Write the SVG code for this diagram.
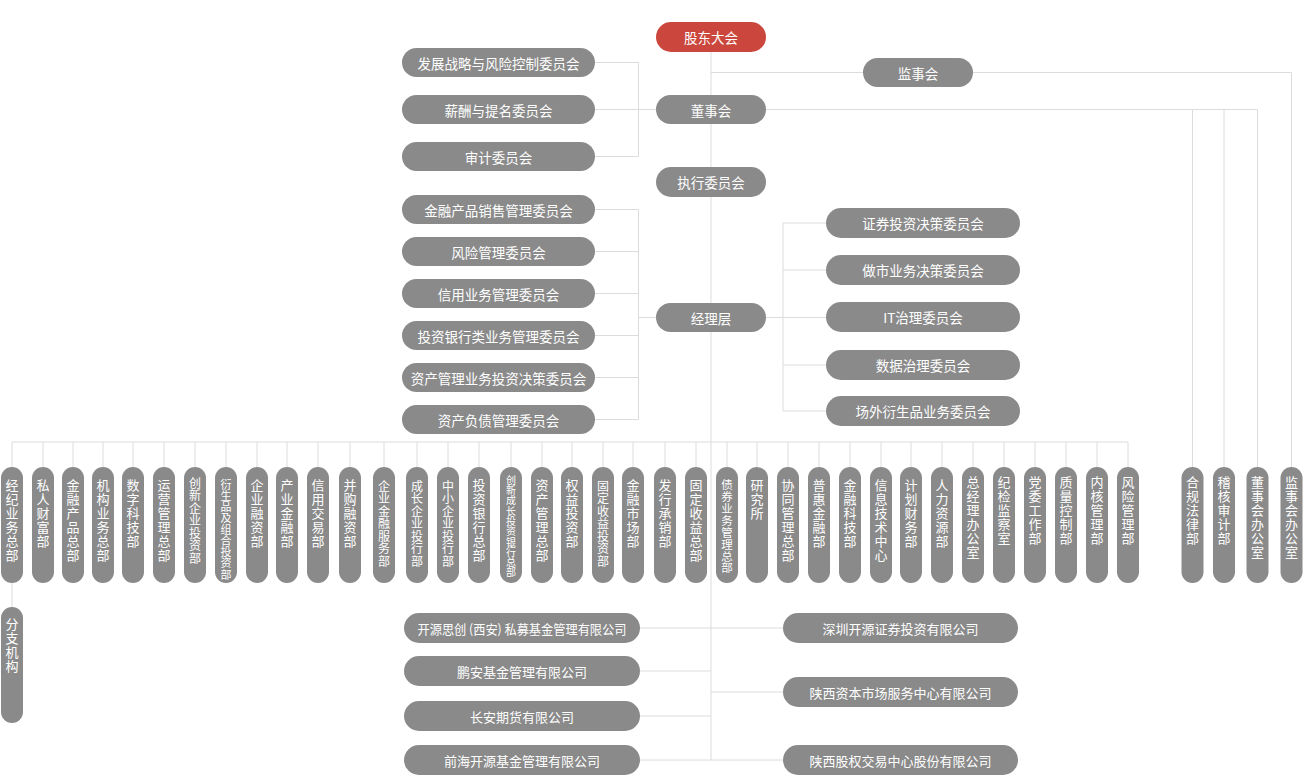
<svg xmlns="http://www.w3.org/2000/svg" width="1305" height="777" viewBox="0 0 1305 777">
<style>
.p{fill:#8a8a8a}
.r{fill:#cb473d}
.t{font-family:"Noto Sans CJK SC","Noto Sans",sans-serif;font-size:13.5px;fill:#fff;text-anchor:middle;dominant-baseline:central}
.s{font-size:13px}
.v{font-family:"Noto Sans CJK SC","Noto Sans",sans-serif;font-size:13px;fill:#fff;writing-mode:vertical-rl;letter-spacing:1px}
.v7{font-size:12px;letter-spacing:0.5px}
.v8{font-size:11.5px;letter-spacing:0.4px}
.v9{font-size:11px;letter-spacing:0.25px}
.v10{font-size:10px;letter-spacing:0.3px}
.c{stroke:#dcdcdc;stroke-width:1;fill:none}
</style>
<rect width="1305" height="777" fill="#fff"/>
<g id="connectors" class="c">
<path d="M711 51V760"/>
<path d="M711 72.5H863M973 72.5H1291.5V467"/>
<path d="M766 109.5H1257.5V467M1192.5 109.5V467M1224 109.5V467"/>
<path d="M595 109.5H656M595 62.5H638.5V156.5H595"/>
<path d="M656 317.5H638.5M595 209.5H638.5V419.5H595M595 251.5H638.5M595 293.5H638.5M595 335.5H638.5M595 377.5H638.5"/>
<path d="M766 317.5H826M826 223H783V411H826M783 270H826M783 365H826"/>
<path d="M12 442H1128"/>
<path d="M12 442V467M43 442V467M73 442V467M103 442V467M133 442V467M164 442V467M195 442V467M226 442V467M257 442V467M287 442V467M318 442V467M350 442V467M384 442V467M417 442V467M448 442V467M479 442V467M511 442V467M542 442V467M572 442V467M603 442V467M633 442V467M665 442V467M696 442V467M727 442V467M757 442V467M788 442V467M819 442V467M850 442V467M881 442V467M911 442V467M942 442V467M973 442V467M1004 442V467M1035 442V467M1066 442V467M1097 442V467M1128 442V467"/>
<path d="M12 583V607"/>
<path d="M640 628H783M640 671H711M640 716H711M640 760H783M711 692H783"/>
</g>
<g id="n-gdhd"><rect class="r" x="656" y="22" width="110" height="30" rx="15"/><text class="t" x="711" y="37">股东大会</text></g>
<g id="n-dsh"><rect class="p" x="656" y="95" width="110" height="29" rx="14.5"/><text class="t" x="711" y="109.5">董事会</text></g>
<g id="n-zxwyh"><rect class="p" x="656" y="167" width="110" height="30" rx="15"/><text class="t" x="711" y="182">执行委员会</text></g>
<g id="n-jlc"><rect class="p" x="656" y="303" width="110" height="29" rx="14.5"/><text class="t" x="711" y="317.5">经理层</text></g>
<g id="n-jsh"><rect class="p" x="863" y="58" width="110" height="29" rx="14.5"/><text class="t" x="918" y="72.5">监事会</text></g>
<g id="n-l1"><rect class="p" x="402" y="48" width="193" height="29" rx="14.5"/><text class="t" x="498.5" y="62.5">发展战略与风险控制委员会</text></g>
<g id="n-l2"><rect class="p" x="402" y="95" width="193" height="29" rx="14.5"/><text class="t" x="498.5" y="109.5">薪酬与提名委员会</text></g>
<g id="n-l3"><rect class="p" x="402" y="142" width="193" height="29" rx="14.5"/><text class="t" x="498.5" y="156.5">审计委员会</text></g>
<g id="n-l4"><rect class="p" x="402" y="195" width="193" height="29" rx="14.5"/><text class="t" x="498.5" y="209.5">金融产品销售管理委员会</text></g>
<g id="n-l5"><rect class="p" x="402" y="237" width="193" height="29" rx="14.5"/><text class="t" x="498.5" y="251.5">风险管理委员会</text></g>
<g id="n-l6"><rect class="p" x="402" y="279" width="193" height="29" rx="14.5"/><text class="t" x="498.5" y="293.5">信用业务管理委员会</text></g>
<g id="n-l7"><rect class="p" x="402" y="321" width="193" height="29" rx="14.5"/><text class="t" x="498.5" y="335.5">投资银行类业务管理委员会</text></g>
<g id="n-l8"><rect class="p" x="402" y="363" width="193" height="29" rx="14.5"/><text class="t" x="498.5" y="377.5">资产管理业务投资决策委员会</text></g>
<g id="n-l9"><rect class="p" x="402" y="405" width="193" height="29" rx="14.5"/><text class="t" x="498.5" y="419.5">资产负债管理委员会</text></g>
<g id="n-r1"><rect class="p" x="826" y="208" width="194" height="30" rx="15"/><text class="t" x="923" y="223">证券投资决策委员会</text></g>
<g id="n-r2"><rect class="p" x="826" y="255" width="194" height="30" rx="15"/><text class="t" x="923" y="270">做市业务决策委员会</text></g>
<g id="n-r3"><rect class="p" x="826" y="302" width="194" height="30" rx="15"/><text class="t" x="923" y="317">IT治理委员会</text></g>
<g id="n-r4"><rect class="p" x="826" y="350" width="194" height="30" rx="15"/><text class="t" x="923" y="365">数据治理委员会</text></g>
<g id="n-r5"><rect class="p" x="826" y="396" width="194" height="30" rx="15"/><text class="t" x="923" y="411">场外衍生品业务委员会</text></g>
<g id="n-d1"><rect class="p" x="1" y="467" width="22" height="116" rx="11"/><text class="v" x="12" y="478.5">经纪业务总部</text></g>
<g id="n-d2"><rect class="p" x="32" y="467" width="22" height="116" rx="11"/><text class="v" x="43" y="478.5">私人财富部</text></g>
<g id="n-d3"><rect class="p" x="62" y="467" width="22" height="116" rx="11"/><text class="v" x="73" y="478.5">金融产品总部</text></g>
<g id="n-d4"><rect class="p" x="92" y="467" width="22" height="116" rx="11"/><text class="v" x="103" y="478.5">机构业务总部</text></g>
<g id="n-d5"><rect class="p" x="122" y="467" width="22" height="116" rx="11"/><text class="v" x="133" y="478.5">数字科技部</text></g>
<g id="n-d6"><rect class="p" x="153" y="467" width="22" height="116" rx="11"/><text class="v" x="164" y="478.5">运营管理总部</text></g>
<g id="n-d7"><rect class="p" x="184" y="467" width="22" height="116" rx="11"/><text class="v v7" x="195" y="477">创新企业投资部</text></g>
<g id="n-d8"><rect class="p" x="215" y="467" width="22" height="116" rx="11"/><text class="v v9" x="226" y="479">衍生品及组合投资部</text></g>
<g id="n-d9"><rect class="p" x="246" y="467" width="22" height="116" rx="11"/><text class="v" x="257" y="478.5">企业融资部</text></g>
<g id="n-d10"><rect class="p" x="276" y="467" width="22" height="116" rx="11"/><text class="v" x="287" y="478.5">产业金融部</text></g>
<g id="n-d11"><rect class="p" x="307" y="467" width="22" height="116" rx="11"/><text class="v" x="318" y="478.5">信用交易部</text></g>
<g id="n-d12"><rect class="p" x="339" y="467" width="22" height="116" rx="11"/><text class="v" x="350" y="478.5">并购融资部</text></g>
<g id="n-d13"><rect class="p" x="373" y="467" width="22" height="116" rx="11"/><text class="v v7" x="384" y="480">企业金融服务部</text></g>
<g id="n-d14"><rect class="p" x="406" y="467" width="22" height="116" rx="11"/><text class="v v7" x="417" y="480">成长企业投行部</text></g>
<g id="n-d15"><rect class="p" x="437" y="467" width="22" height="116" rx="11"/><text class="v v7" x="448" y="480">中小企业投行部</text></g>
<g id="n-d16"><rect class="p" x="468" y="467" width="22" height="116" rx="11"/><text class="v" x="479" y="478.5">投资银行总部</text></g>
<g id="n-d17"><rect class="p" x="500" y="467" width="22" height="116" rx="11"/><text class="v v10" x="511" y="475">创新成长投资银行总部</text></g>
<g id="n-d18"><rect class="p" x="531" y="467" width="22" height="116" rx="11"/><text class="v" x="542" y="478.5">资产管理总部</text></g>
<g id="n-d19"><rect class="p" x="561" y="467" width="22" height="116" rx="11"/><text class="v" x="572" y="478.5">权益投资部</text></g>
<g id="n-d20"><rect class="p" x="592" y="467" width="22" height="116" rx="11"/><text class="v v7" x="603" y="480">固定收益投资部</text></g>
<g id="n-d21"><rect class="p" x="622" y="467" width="22" height="116" rx="11"/><text class="v" x="633" y="478.5">金融市场部</text></g>
<g id="n-d22"><rect class="p" x="654" y="467" width="22" height="116" rx="11"/><text class="v" x="665" y="478.5">发行承销部</text></g>
<g id="n-d23"><rect class="p" x="685" y="467" width="22" height="116" rx="11"/><text class="v" x="696" y="478.5">固定收益总部</text></g>
<g id="n-d24"><rect class="p" x="716" y="467" width="22" height="116" rx="11"/><text class="v v8" x="727" y="479">债券业务管理总部</text></g>
<g id="n-d25"><rect class="p" x="746" y="467" width="22" height="116" rx="11"/><text class="v" x="757" y="478.5">研究所</text></g>
<g id="n-d26"><rect class="p" x="777" y="467" width="22" height="116" rx="11"/><text class="v" x="788" y="478.5">协同管理总部</text></g>
<g id="n-d27"><rect class="p" x="808" y="467" width="22" height="116" rx="11"/><text class="v" x="819" y="478.5">普惠金融部</text></g>
<g id="n-d28"><rect class="p" x="839" y="467" width="22" height="116" rx="11"/><text class="v" x="850" y="478.5">金融科技部</text></g>
<g id="n-d29"><rect class="p" x="870" y="467" width="22" height="116" rx="11"/><text class="v" x="881" y="478.5">信息技术中心</text></g>
<g id="n-d30"><rect class="p" x="900" y="467" width="22" height="116" rx="11"/><text class="v" x="911" y="478.5">计划财务部</text></g>
<g id="n-d31"><rect class="p" x="931" y="467" width="22" height="116" rx="11"/><text class="v" x="942" y="478.5">人力资源部</text></g>
<g id="n-d32"><rect class="p" x="962" y="467" width="22" height="116" rx="11"/><text class="v" x="973" y="476">总经理办公室</text></g>
<g id="n-d33"><rect class="p" x="993" y="467" width="22" height="116" rx="11"/><text class="v" x="1004" y="476">纪检监察室</text></g>
<g id="n-d34"><rect class="p" x="1024" y="467" width="22" height="116" rx="11"/><text class="v" x="1035" y="476">党委工作部</text></g>
<g id="n-d35"><rect class="p" x="1055" y="467" width="22" height="116" rx="11"/><text class="v" x="1066" y="476">质量控制部</text></g>
<g id="n-d36"><rect class="p" x="1086" y="467" width="22" height="116" rx="11"/><text class="v" x="1097" y="476">内核管理部</text></g>
<g id="n-d37"><rect class="p" x="1117" y="467" width="22" height="116" rx="11"/><text class="v" x="1128" y="476">风险管理部</text></g>
<g id="n-e1"><rect class="p" x="1181.5" y="467" width="22" height="116" rx="11"/><text class="v" x="1192.5" y="476">合规法律部</text></g>
<g id="n-e2"><rect class="p" x="1213" y="467" width="22" height="116" rx="11"/><text class="v" x="1224" y="476">稽核审计部</text></g>
<g id="n-e3"><rect class="p" x="1246.5" y="467" width="22" height="116" rx="11"/><text class="v" x="1257.5" y="476">董事会办公室</text></g>
<g id="n-e4"><rect class="p" x="1280.5" y="467" width="22" height="116" rx="11"/><text class="v" x="1291.5" y="476">监事会办公室</text></g>
<g id="n-fzjg"><rect class="p" x="1" y="607" width="22" height="116" rx="11"/><text class="v" x="12" y="618">分支机构</text></g>
<g id="n-s1"><rect class="p" x="404" y="613" width="236" height="30" rx="15"/><text class="t s" x="522" y="628" textLength="209" lengthAdjust="spacingAndGlyphs">开源思创 (西安) 私募基金管理有限公司</text></g>
<g id="n-s2"><rect class="p" x="404" y="656" width="236" height="30" rx="15"/><text class="t s" x="522" y="671">鹏安基金管理有限公司</text></g>
<g id="n-s3"><rect class="p" x="404" y="701" width="236" height="30" rx="15"/><text class="t s" x="522" y="716">长安期货有限公司</text></g>
<g id="n-s4"><rect class="p" x="404" y="745" width="236" height="30" rx="15"/><text class="t s" x="522" y="760">前海开源基金管理有限公司</text></g>
<g id="n-s5"><rect class="p" x="783" y="613" width="235" height="30" rx="15"/><text class="t s" x="900.5" y="628">深圳开源证券投资有限公司</text></g>
<g id="n-s6"><rect class="p" x="783" y="677" width="235" height="30" rx="15"/><text class="t s" x="900.5" y="692">陕西资本市场服务中心有限公司</text></g>
<g id="n-s7"><rect class="p" x="783" y="745" width="235" height="30" rx="15"/><text class="t s" x="900.5" y="760">陕西股权交易中心股份有限公司</text></g>
</svg>
